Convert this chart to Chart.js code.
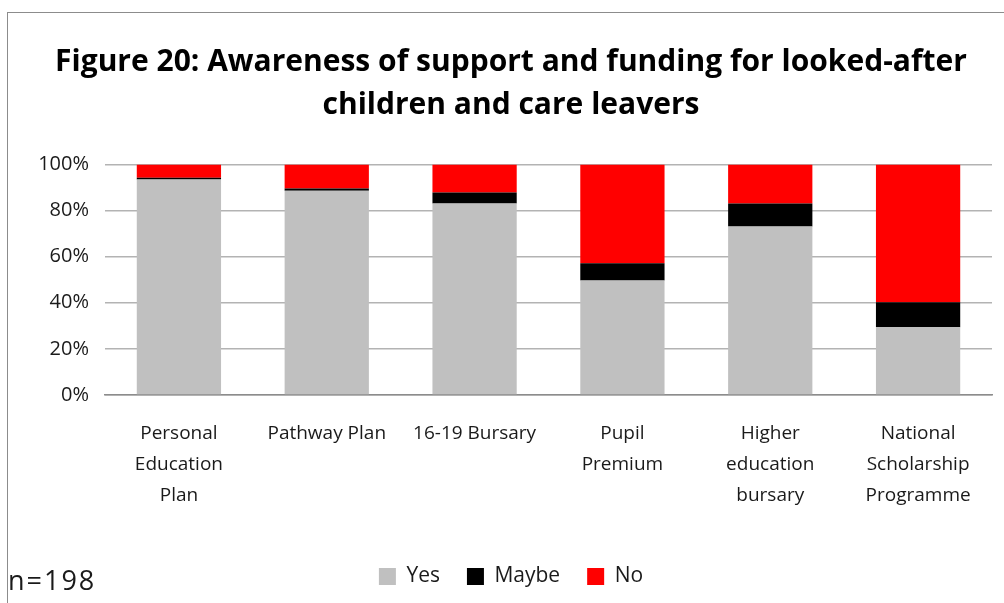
<!DOCTYPE html>
<html>
<head>
<meta charset="utf-8">
<title>Figure 20</title>
<script src="https://cdn.jsdelivr.net/npm/chart.js@4.4.1/dist/chart.umd.min.js"></script>
<style>
    html, body {
        margin: 0;
        padding: 0;
        background: #ffffff;
    }
    #wrap {
        width: 1004px;
        height: 603px;
        position: relative;
    }
</style>
</head>
<body>
<div id="wrap"><canvas id="awarenessChart"></canvas></div>
<script>
// chart data (percent of respondents, n=198)
const categories = [
    ['Personal', 'Education', 'Plan'],
    'Pathway Plan',
    '16-19 Bursary',
    ['Pupil', 'Premium'],
    ['Higher', 'education', 'bursary'],
    ['National', 'Scholarship', 'Programme']
];
const yesValues = [93.4, 88.6, 83.0, 49.7, 73.1, 29.4];
const maybeValues = [0.8, 0.9, 4.8, 7.4, 9.9, 10.8];
const noValues = [5.8, 10.5, 12.2, 42.9, 17.0, 59.8];
const yTicks = [0, 20, 40, 60, 80, 100];
const titleLines = ['Figure 20: Awareness of support and funding for looked-after', 'children and care leavers'];
const noteText = 'n=198';

(function() {
    'use strict';

    const FONT = "'Open Sans', 'DejaVu Sans', sans-serif";

    // frame around the chart + sample size note
    const framePlugin = {
        id: 'frame',
        beforeDraw(chart) {
            const ctx = chart.ctx;
            ctx.save();
            ctx.strokeStyle = '#8c8c8c';
            ctx.lineWidth = 1;
            ctx.strokeRect(7.5, 12.5, chart.width + 20, chart.height + 20);
            ctx.restore();
        },
        afterDraw(chart) {
            const ctx = chart.ctx;
            ctx.save();
            ctx.fillStyle = '#1a1a1a';
            ctx.font = '27px ' + FONT;
            ctx.letterSpacing = '2px';
            ctx.textBaseline = 'alphabetic';
            ctx.fillText(noteText, 8, 590);
            ctx.restore();
        }
    };

    function initChart() {
        const canvas = document.getElementById('awarenessChart');
        const ctx = canvas.getContext('2d');

        new Chart(ctx, {
            type: 'bar',
            data: {
                labels: categories,
                datasets: [{
                    label: 'Yes',
                    data: yesValues,
                    backgroundColor: '#c0c0c0'
                }, {
                    label: 'Maybe',
                    data: maybeValues,
                    backgroundColor: '#000000'
                }, {
                    label: 'No',
                    data: noValues,
                    backgroundColor: '#ff0000'
                }]
            },
            options: {
                responsive: true,
                maintainAspectRatio: false,
                animation: false,
                datasets: {
                    bar: {
                        barPercentage: 0.57,
                        categoryPercentage: 1.0,
                        borderWidth: 0
                    }
                },
                layout: {
                    padding: { top: 12, right: 12, bottom: 6, left: 30 }
                },
                plugins: {
                    title: {
                        display: true,
                        text: titleLines,
                        color: '#000000',
                        font: { family: FONT, size: 30, weight: 'bold', lineHeight: 1.44 },
                        padding: { top: 29, bottom: 37 }
                    },
                    legend: {
                        position: 'bottom',
                        labels: {
                            color: '#1a1a1a',
                            font: { family: FONT, size: 21 },
                            boxWidth: 17,
                            boxHeight: 17,
                            padding: 27
                        }
                    },
                    tooltip: { enabled: false }
                },
                scales: {
                    x: {
                        stacked: true,
                        grid: { display: false },
                        border: { color: '#8c8c8c', width: 1.5 },
                        ticks: {
                            color: '#1a1a1a',
                            font: { family: FONT, size: 19, lineHeight: 1.63 },
                            maxRotation: 0,
                            autoSkip: false,
                            padding: 15
                        },
                        afterFit: function(scale) {
                            scale.height = 144;
                        }
                    },
                    y: {
                        stacked: true,
                        min: 0,
                        max: 100,
                        afterBuildTicks: function(scale) {
                            scale.ticks = yTicks.map(v => ({ value: v }));
                        },
                        grid: {
                            color: '#b3b3b3',
                            lineWidth: 1.5,
                            drawTicks: false
                        },
                        border: { display: false },
                        ticks: {
                            color: '#1a1a1a',
                            font: { family: FONT, size: 20 },
                            padding: 16,
                            callback: function(value) {
                                return value + '%';
                            }
                        },
                        afterFit: function(scale) {
                            scale.width = 75;
                        }
                    }
                }
            },
            plugins: [framePlugin]
        });
    }

    document.addEventListener('DOMContentLoaded', initChart);
})();
</script>
</body>
</html>
